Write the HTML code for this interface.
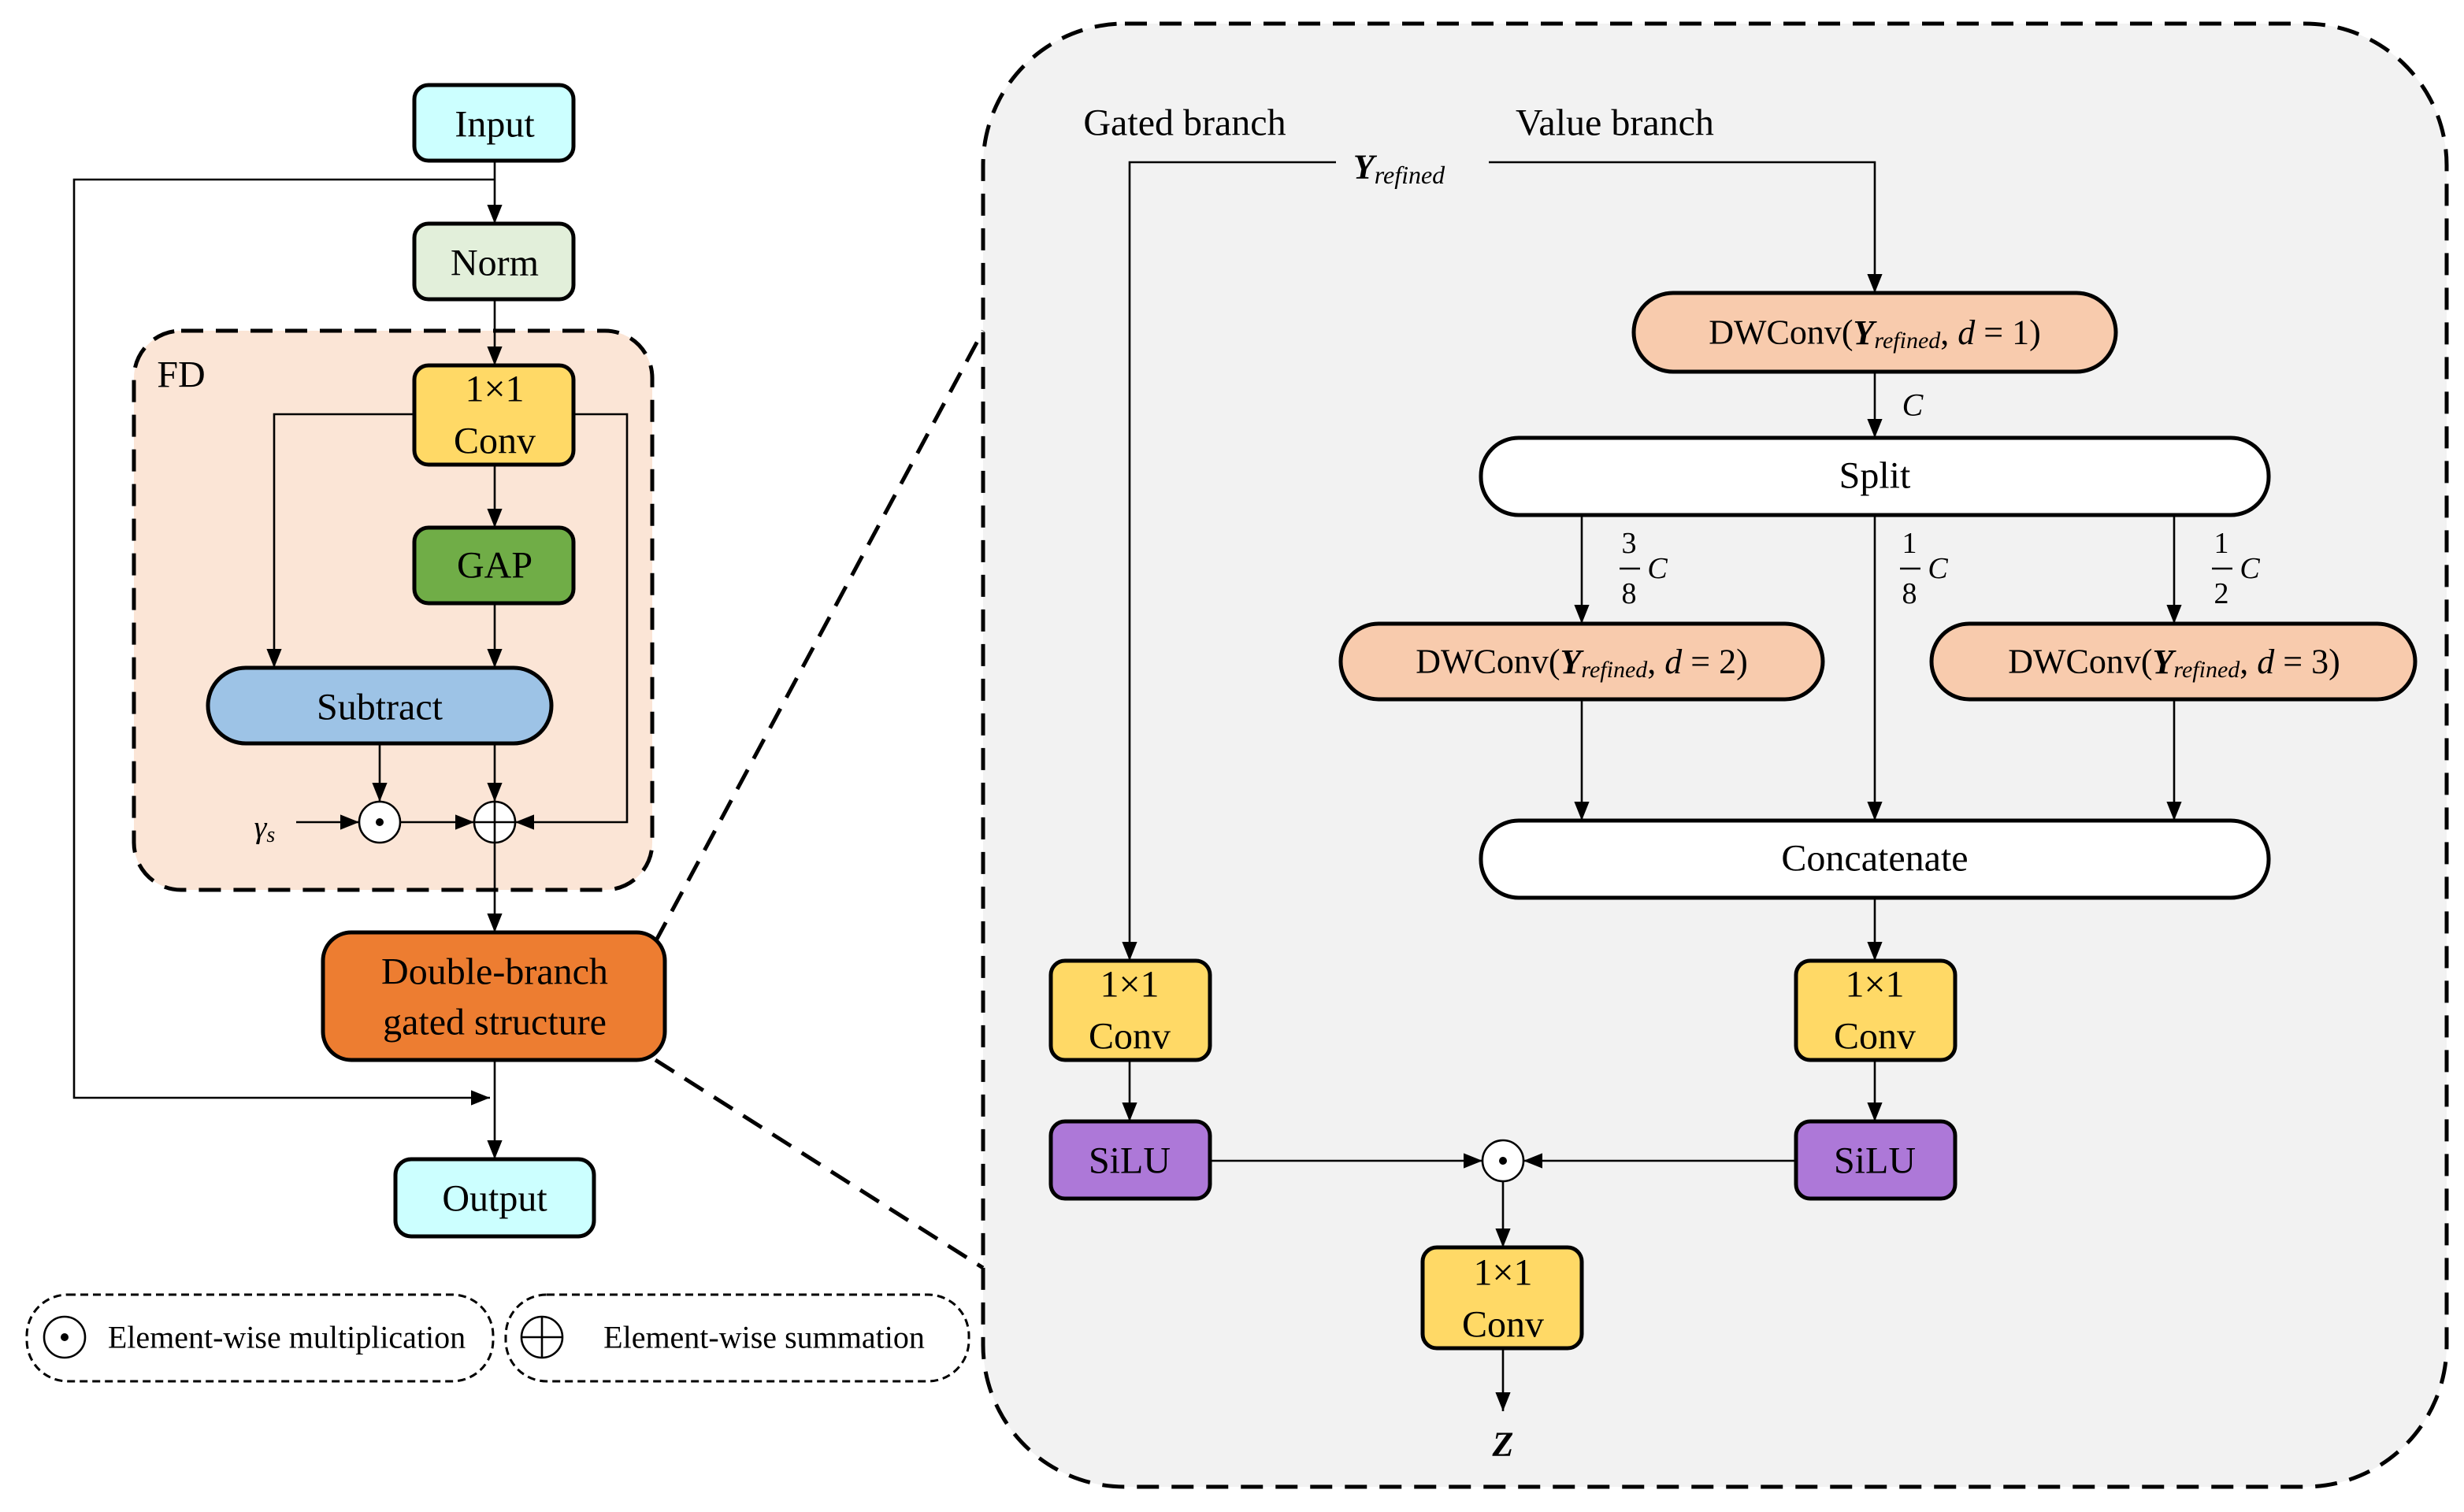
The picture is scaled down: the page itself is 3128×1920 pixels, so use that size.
<!DOCTYPE html>
<html><head><meta charset="utf-8"><style>html,body{margin:0;padding:0;background:#fff}svg{display:block}text{font-family:"Liberation Serif",serif;fill:#000}</style></head>
<body>
<svg width="3128" height="1920" viewBox="0 0 1564 960" xmlns="http://www.w3.org/2000/svg">
<defs>
<marker id="a" viewBox="0 0 10 10" refX="10" refY="5" markerWidth="12" markerHeight="12" markerUnits="userSpaceOnUse" orient="auto"><path d="M0,1 L10,5 L0,9 z" fill="#000"/></marker>
</defs>
<g font-size="24" text-anchor="middle" dominant-baseline="central">
<!-- big panel -->
<rect x="624" y="15" width="929" height="929" rx="90" fill="#f2f2f2" stroke="#000" stroke-width="2.5" stroke-dasharray="14,8"/>
<line x1="416" y1="598" x2="624" y2="210" stroke="#000" stroke-width="2.5" stroke-dasharray="14,8"/>
<line x1="416" y1="673" x2="624" y2="805" stroke="#000" stroke-width="2.5" stroke-dasharray="14,8"/>
<!-- FD -->
<rect x="85" y="210" width="329" height="355" rx="30" fill="#fbe5d6" stroke="#000" stroke-width="2.5" stroke-dasharray="14,8"/>
<text x="115" y="238" text-anchor="middle">FD</text>
<!-- left connectors -->
<g stroke="#000" stroke-width="1.3" fill="none">
<line x1="314" y1="102" x2="314" y2="142" marker-end="url(#a)"/>
<polyline points="314,114 47,114 47,697 311,697" marker-end="url(#a)"/>
<line x1="314" y1="190" x2="314" y2="232" marker-end="url(#a)"/>
<line x1="314" y1="295" x2="314" y2="335" marker-end="url(#a)"/>
<line x1="314" y1="383" x2="314" y2="424" marker-end="url(#a)"/>
<polyline points="263,263 174,263 174,424" marker-end="url(#a)"/>
<polyline points="364,263 398,263 398,522 327,522" marker-end="url(#a)"/>
<line x1="241" y1="472" x2="241" y2="509" marker-end="url(#a)"/>
<line x1="314" y1="472" x2="314" y2="509" marker-end="url(#a)"/>
<line x1="188" y1="522" x2="228" y2="522" marker-end="url(#a)"/>
<line x1="254" y1="522" x2="301" y2="522" marker-end="url(#a)"/>
<line x1="314" y1="535" x2="314" y2="592" marker-end="url(#a)"/>
<line x1="314" y1="673" x2="314" y2="736" marker-end="url(#a)"/>
</g>
<g stroke="#000" stroke-width="2.5">
<rect x="263" y="54" width="101" height="48" rx="9" fill="#ccffff"/>
<rect x="263" y="142" width="101" height="48" rx="9" fill="#e2efda"/>
<rect x="263" y="232" width="101" height="63" rx="9" fill="#ffd966"/>
<rect x="263" y="335" width="101" height="48" rx="9" fill="#70ad47"/>
<rect x="132" y="424" width="218" height="48" rx="24" fill="#9dc3e6"/>
<rect x="205" y="592" width="217" height="81" rx="18" fill="#ed7d31"/>
<rect x="251" y="736" width="126" height="49" rx="10" fill="#ccffff"/>
</g>
<text x="314" y="79">Input</text>
<text x="314" y="167">Norm</text>
<text x="314" y="247">1×1</text>
<text x="314" y="280">Conv</text>
<text x="314" y="359">GAP</text>
<text x="241" y="449">Subtract</text>
<text x="314" y="617">Double-branch</text>
<text x="314" y="649">gated structure</text>
<text x="314" y="761">Output</text>
<text x="168" y="525" font-style="italic" font-size="20">γ<tspan font-size="14" dy="5">s</tspan></text>
<circle cx="241" cy="522" r="13" fill="#fff" stroke="#000" stroke-width="1.3"/><circle cx="241" cy="522" r="2.5"/>
<circle cx="314" cy="522" r="13" fill="#fff" stroke="#000" stroke-width="1.3"/>
<path d="M301,522 H327 M314,509 V535" stroke="#000" stroke-width="1.3"/>
<!-- legend -->
<rect x="17" y="822" width="296" height="55" rx="26" fill="none" stroke="#000" stroke-width="1.5" stroke-dasharray="5,3"/>
<rect x="321" y="822" width="294" height="55" rx="26" fill="none" stroke="#000" stroke-width="1.5" stroke-dasharray="5,3"/>
<circle cx="41" cy="849" r="13" fill="#fff" stroke="#000" stroke-width="1.3"/><circle cx="41" cy="849" r="2.5"/>
<circle cx="344" cy="849" r="13" fill="#fff" stroke="#000" stroke-width="1.3"/>
<path d="M331,849 H357 M344,836 V862" stroke="#000" stroke-width="1.3"/>
<text x="182" y="849" font-size="20">Element-wise multiplication</text>
<text x="485" y="849" font-size="20">Element-wise summation</text>
<!-- right panel -->
<text x="752" y="78">Gated branch</text>
<text x="1025" y="78">Value branch</text>
<text x="888" y="106" font-style="italic" font-weight="bold" font-size="22">Y<tspan font-size="16" font-weight="normal" dy="5">refined</tspan></text>
<g stroke="#000" stroke-width="1.3" fill="none">
<polyline points="848,103 717,103 717,610" marker-end="url(#a)"/>
<polyline points="945,103 1190,103 1190,186" marker-end="url(#a)"/>
<line x1="1190" y1="236" x2="1190" y2="278" marker-end="url(#a)"/>
<line x1="1004" y1="327" x2="1004" y2="396" marker-end="url(#a)"/>
<line x1="1380" y1="327" x2="1380" y2="396" marker-end="url(#a)"/>
<line x1="1190" y1="327" x2="1190" y2="521" marker-end="url(#a)"/>
<line x1="1004" y1="444" x2="1004" y2="521" marker-end="url(#a)"/>
<line x1="1380" y1="444" x2="1380" y2="521" marker-end="url(#a)"/>
<line x1="1190" y1="570" x2="1190" y2="610" marker-end="url(#a)"/>
<line x1="1190" y1="673" x2="1190" y2="712" marker-end="url(#a)"/>
<line x1="717" y1="673" x2="717" y2="712" marker-end="url(#a)"/>
<line x1="768" y1="737" x2="941" y2="737" marker-end="url(#a)"/>
<line x1="1140" y1="737" x2="967" y2="737" marker-end="url(#a)"/>
<line x1="954" y1="750" x2="954" y2="792" marker-end="url(#a)"/>
<line x1="954" y1="856" x2="954" y2="896" marker-end="url(#a)"/>
</g>
<g stroke="#000" stroke-width="2.5">
<rect x="1037" y="186" width="306" height="50" rx="25" fill="#f8cbad"/>
<rect x="940" y="278" width="500" height="49" rx="24" fill="#fff"/>
<rect x="851" y="396" width="306" height="48" rx="24" fill="#f8cbad"/>
<rect x="1226" y="396" width="307" height="48" rx="24" fill="#f8cbad"/>
<rect x="940" y="521" width="500" height="49" rx="24" fill="#fff"/>
<rect x="667" y="610" width="101" height="63" rx="9" fill="#ffd966"/>
<rect x="1140" y="610" width="101" height="63" rx="9" fill="#ffd966"/>
<rect x="667" y="712" width="101" height="49" rx="9" fill="#ad78d8"/>
<rect x="1140" y="712" width="101" height="49" rx="9" fill="#ad78d8"/>
<rect x="903" y="792" width="101" height="64" rx="9" fill="#ffd966"/>
</g>
<text x="1190" y="211" font-size="22">DWConv(<tspan font-style="italic" font-weight="bold">Y</tspan><tspan font-style="italic" font-size="15" dy="5">refined</tspan><tspan dy="-5">, </tspan><tspan font-style="italic">d</tspan> = 1)</text>
<text x="1004" y="420" font-size="22">DWConv(<tspan font-style="italic" font-weight="bold">Y</tspan><tspan font-style="italic" font-size="15" dy="5">refined</tspan><tspan dy="-5">, </tspan><tspan font-style="italic">d</tspan> = 2)</text>
<text x="1380" y="420" font-size="22">DWConv(<tspan font-style="italic" font-weight="bold">Y</tspan><tspan font-style="italic" font-size="15" dy="5">refined</tspan><tspan dy="-5">, </tspan><tspan font-style="italic">d</tspan> = 3)</text>
<text x="1190" y="302">Split</text>
<text x="1190" y="545">Concatenate</text>
<text x="1214" y="257" font-style="italic" font-size="20">C</text>
<g font-size="19">
<text x="1034" y="345">3</text><text x="1034" y="377">8</text><line x1="1028" y1="361" x2="1041" y2="361" stroke="#000" stroke-width="1.3"/><text x="1052" y="361" font-style="italic">C</text>
<text x="1212" y="345">1</text><text x="1212" y="377">8</text><line x1="1206" y1="361" x2="1219" y2="361" stroke="#000" stroke-width="1.3"/><text x="1230" y="361" font-style="italic">C</text>
<text x="1410" y="345">1</text><text x="1410" y="377">2</text><line x1="1404" y1="361" x2="1417" y2="361" stroke="#000" stroke-width="1.3"/><text x="1428" y="361" font-style="italic">C</text>
</g>
<text x="717" y="625">1×1</text><text x="717" y="658">Conv</text>
<text x="1190" y="625">1×1</text><text x="1190" y="658">Conv</text>
<text x="954" y="808">1×1</text><text x="954" y="841">Conv</text>
<text x="717" y="737">SiLU</text>
<text x="1190" y="737">SiLU</text>
<circle cx="954" cy="737" r="13" fill="#fff" stroke="#000" stroke-width="1.3"/><circle cx="954" cy="737" r="2.5"/>
<text x="954" y="917" font-style="italic" font-weight="bold" font-size="22">Z</text>
</g>
</svg>
</body></html>
